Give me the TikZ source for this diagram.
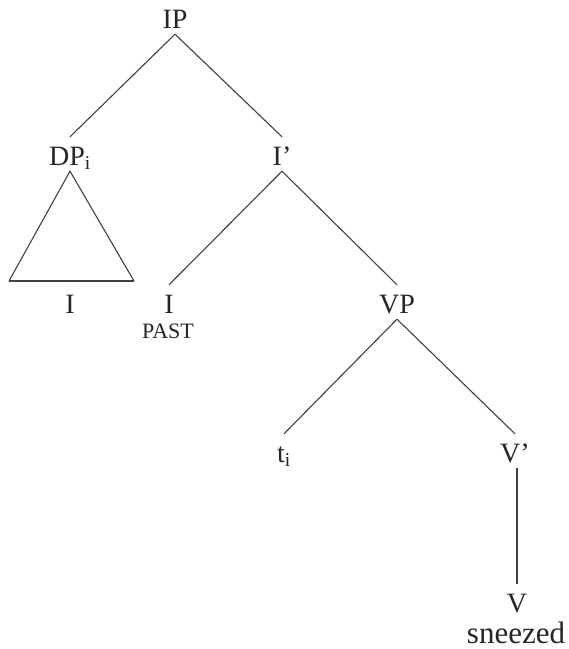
\documentclass[tikz,border=0pt]{standalone}
\usepackage{fontspec}
\setmainfont{Liberation Serif}
\begin{document}
\begin{tikzpicture}[x=1pt,y=1pt,
  lbl/.style={font=\fontsize{28}{28}\selectfont, text=black!85, inner xsep=0pt, inner ysep=6pt, text height=22pt, text depth=0pt, anchor=base},
  small/.style={font=\fontsize{22}{22}\selectfont, text=black!85, inner sep=0pt, anchor=base},
  word/.style={font=\fontsize{31}{31}\selectfont, text=black!85, inner sep=0pt, anchor=base},
  branch/.style={draw=black!75, line width=1.1pt}]
\useasboundingbox (0,0) rectangle (569,-649);
\node[lbl] (ip) at (175,-28) {IP};
\node[lbl] (dp) at (70,-165) {DP\textsubscript{i}};
\node[lbl] (ibar) at (282,-165) {I’};
\node[lbl] (dpi) at (70,-313) {I};
\node[lbl] (infl) at (169,-313) {I};
\node[small] (past) at (168,-338) {PAST};
\node[lbl] (vp) at (397,-313) {VP};
\node[lbl] (ti) at (284,-462) {t\textsubscript{i}};
\node[lbl] (vbar) at (515,-462) {V’};
\node[lbl] (v) at (517,-612) {V};
\node[word] (sneezed) at (516,-643) {sneezed};
\coordinate (tl) at (9,-281);
\coordinate (tr) at (134,-281);
\draw[branch] (ip.south) -- (dp.north);
\draw[branch] (ip.south) -- (ibar.north);
\draw[branch, line join=miter] (tl) -- (dp.south) -- (tr);
\draw[draw=black!75, line width=2pt] (tl) -- (tr);
\draw[branch] (ibar.south) -- (infl.north);
\draw[branch] (ibar.south) -- (vp.north);
\draw[branch] (vp.south) -- (ti.north);
\draw[branch] (vp.south) -- (vbar.north);
\draw[branch] (vbar.south -| v.north) -- (v.north);
\end{tikzpicture}
\end{document}
